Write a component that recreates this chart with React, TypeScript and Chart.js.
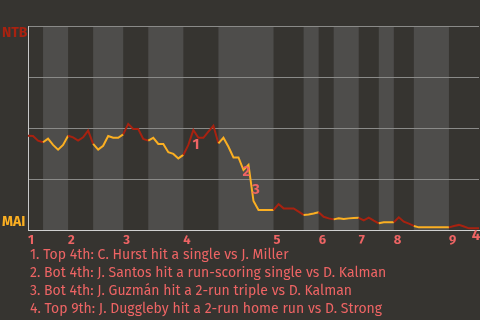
import React, { useEffect, useRef } from 'react';
import { Chart, registerables } from 'chart.js';

Chart.register(...registerables);

// NTB win probability (%) after each event of the game
const winProbNTB = [
  46.2, 46.1, 43.8, 43.0, 44.8, 41.7, 39.4, 41.7, 46.2, 45.4,
  43.8, 45.4, 48.7, 42.2, 39.4, 41.3, 46.1, 45.2, 45.2, 46.9,
  52.0, 49.5, 49.5, 44.6, 43.8, 45.2, 42.2, 42.2, 38.1, 37.3,
  35.1, 36.8, 41.7, 49.0, 45.2, 45.2, 48.2, 51.1, 42.5, 45.2,
  40.8, 35.6, 35.6, 29.4, 31.9, 14.2, 9.8, 9.8, 9.8, 9.8,
  12.7, 10.6, 10.6, 10.6, 9.0, 7.4, 7.6, 8.1, 8.7, 6.5,
  5.7, 5.2, 5.7, 5.4, 5.7, 5.9, 6.0, 4.7, 6.1, 4.6,
  3.3, 3.8, 3.8, 3.8, 6.2, 4.1, 3.1, 2.0, 1.3, 1.3,
  1.3, 1.3, 1.3, 1.3, 1.3, 2.0, 2.5, 1.7, 0.8, 0.8,
  0.8,
];

// event index where each half-inning starts (top 1st, bottom 1st, ... top 9th, end)
const halfInningStarts = [0, 3, 8, 13, 19, 24, 31, 38, 49, 55, 58, 61, 66, 70, 73, 77, 84, 90];
const inningLabels = ['1', '2', '3', '4', '5', '6', '7', '8', '9'];
const teamTop = 'NTB';
const teamBottom = 'MAI';

const annotationNumbers = ['1', '2', '3', '4'];
const annotationX = [33.5, 43.6, 45.5, 89.4];
const annotationY = [41.9, 28.3, 19.6, -2.9];
const annotationTexts = [
  '1. Top 4th: C. Hurst hit a single vs J. Miller',
  '2. Bot 4th: J. Santos hit a run-scoring single vs D. Kalman',
  '3. Bot 4th: J. Guzmán hit a 2-run triple vs D. Kalman',
  '4. Top 9th: J. Duggleby hit a 2-run home run vs D. Strong',
];

const BG = '#363430';
const BAND = '#4e4d4b';
const RED = '#a82210';
const YELLOW = '#fbaf22';
const SALMON = '#ee6464';
const FONT = "'Fira Sans', Roboto, 'Noto Sans', sans-serif";

const halfIndexOf = (i: number) => {
  for (let k = 0; k < halfInningStarts.length - 1; k++) {
    if (i >= halfInningStarts[k] && i < halfInningStarts[k + 1]) return k;
  }
  return halfInningStarts.length - 2;
};

const inningStarts = halfInningStarts.filter((_, k) => k % 2 === 0 && k < halfInningStarts.length - 1);

const bandsPlugin = {
  id: 'bands',
  beforeDraw(chart: any) {
    const { ctx, chartArea, scales } = chart;
    ctx.save();
    ctx.fillStyle = BG;
    ctx.fillRect(0, 0, chart.width, chart.height);
    for (let k = 1; k < halfInningStarts.length - 1; k += 2) {
      const x0 = scales.x.getPixelForValue(halfInningStarts[k]);
      const x1 = scales.x.getPixelForValue(halfInningStarts[k + 1]);
      ctx.fillStyle = BAND;
      ctx.fillRect(x0, chartArea.top, x1 - x0, chartArea.bottom - chartArea.top);
    }
    ctx.restore();
  },
};

const labelsPlugin = {
  id: 'labels',
  afterDatasetsDraw(chart: any) {
    const { ctx, scales } = chart;
    ctx.save();
    ctx.font = `bold 14px ${FONT}`;
    ctx.textAlign = 'left';
    ctx.textBaseline = 'middle';
    ctx.fillStyle = RED;
    ctx.fillText(teamTop, 2, scales.y.getPixelForValue(100) + 7);
    ctx.fillStyle = YELLOW;
    ctx.fillText(teamBottom, 2, scales.y.getPixelForValue(0) - 8);
    ctx.font = `bold 15px ${FONT}`;
    ctx.textAlign = 'center';
    ctx.fillStyle = SALMON;
    annotationNumbers.forEach((t, i) => {
      ctx.fillText(t, scales.x.getPixelForValue(annotationX[i]), scales.y.getPixelForValue(annotationY[i]));
    });
    ctx.restore();
  },
};

export default function App() {
  const ref = useRef<HTMLCanvasElement>(null);
  useEffect(() => {
    if (!ref.current) return;
    const chart = new Chart(ref.current, {
      type: 'line',
      data: {
        datasets: [
          {
            data: winProbNTB.map((v, i) => ({ x: i, y: v })),
            borderWidth: 2,
            pointRadius: 0,
            tension: 0,
            borderColor: RED,
            segment: {
              borderColor: (ctx: any) => (halfIndexOf(ctx.p0DataIndex) % 2 === 0 ? RED : YELLOW),
            },
          },
        ],
      },
      options: {
        animation: false,
        responsive: false,
        events: [],
        layout: { padding: { top: 26, right: 1, bottom: 72, left: 0 } },
        plugins: { legend: { display: false }, tooltip: { enabled: false } },
        scales: {
          x: {
            type: 'linear',
            min: 0,
            max: 90,
            afterBuildTicks: (axis: any) => {
              axis.ticks = inningStarts.map((v) => ({ value: v }));
            },
            afterFit: (axis: any) => {
              axis.height = 18;
            },
            grid: { display: false, drawTicks: false },
            border: { display: true, color: '#d0d0d0', width: 1 },
            ticks: {
              autoSkip: false,
              maxRotation: 0,
              minRotation: 0,
              align: 'start',
              padding: 3,
              color: SALMON,
              font: { family: FONT, size: 13, weight: 'bold' },
              callback: (_v: any, i: number) => inningLabels[i],
            },
          },
          y: {
            min: 0,
            max: 100,
            afterFit: (axis: any) => {
              axis.width = 28;
            },
            ticks: { display: false, stepSize: 25 },
            grid: { color: '#8a8a88', lineWidth: 1, drawTicks: false },
            border: { display: true, color: '#c8c8c8', width: 1 },
          },
        },
      },
      plugins: [bandsPlugin, labelsPlugin],
    } as any);
    return () => chart.destroy();
  }, []);

  return (
    <div style={{ position: 'fixed', left: 0, top: 0, width: 480, height: 320, background: BG, overflow: 'hidden' }}>
      <canvas ref={ref} width={480} height={320} style={{ position: 'absolute', left: 0, top: 0, width: 480, height: 320 }} />
      <div
        style={{
          position: 'absolute',
          left: 30,
          top: 246,
          color: SALMON,
          fontFamily: FONT,
          fontSize: 14,
          lineHeight: '18px',
          whiteSpace: 'nowrap',
        }}
      >
        {annotationTexts.map((t) => (
          <div key={t}>{t}</div>
        ))}
      </div>
    </div>
  );
}
